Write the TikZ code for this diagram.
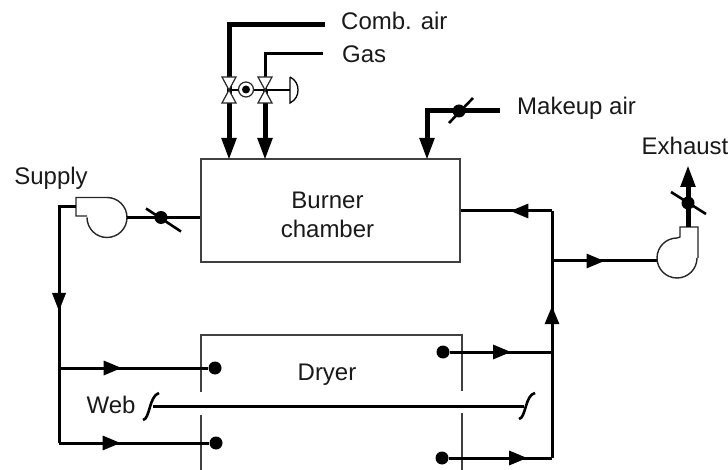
\documentclass[tikz,border=0pt]{standalone}
\usepackage{fontspec}
\setmainfont{Liberation Sans}
\usetikzlibrary{arrows.meta, decorations.markings, positioning}
\tikzstyle{vessel} = [rectangle, draw=black!75, line width=1.2pt, inner sep=0pt]
\tikzstyle{wall} = [draw=black!75, line width=1.4pt]
\tikzstyle{label} = [inner sep=0pt, text=black!90, align=center, font=\fontsize{24}{29}\selectfont]
\tikzstyle{pipe} = [line width=3pt]
\tikzstyle{heavy} = [line width=5pt]
\tikzstyle{link} = [line width=1.3pt]
\tikzstyle{tip} = [-{Triangle[length=22pt,width=14pt]}]
\tikzstyle{dot} = [circle, fill=black, inner sep=0pt, minimum size=13pt]
\tikzstyle{stick} = [line width=2.6pt]
\tikzstyle{fan} = [circle, inner sep=0pt, minimum size=40pt]
\tikzstyle{fanbody} = [draw=black!85, line width=1.4pt, fill=white]
\tikzstyle{valve} = [draw=black!85, line width=1.2pt, fill=white]
\tikzstyle{curl} = [line width=2.6pt]
\tikzset{flow/.style={postaction={decorate}, decoration={markings, mark=at position #1 with {\arrow{Triangle[length=18pt,width=14pt]}}}}}

\begin{document}
\begin{tikzpicture}[x=1pt, y=-1pt]
\useasboundingbox (0,0) rectangle (728,470);

\node (chamber) [vessel, minimum width=259pt, minimum height=103pt] at (330.5,210.5) {};
\node (chambertext) [label] at (327.5,215) {Burner\\chamber};

% dryer
\coordinate (dryernw) at (201,335);
\coordinate (dryerne) at (462,335);
\coordinate (dryerw) at (201,392);
\coordinate (dryere) at (462,391);
\draw [wall] (dryerw) -- (dryernw) -- (dryerne) -- (dryere);
\coordinate (dryerlw) at (201,415);
\coordinate (dryerle) at (462,413);
\draw [wall] (dryerlw) -- (201,470);
\draw [wall] (dryerle) -- (462,470);
\node (dryertext) [label] at (327,375) {Dryer};

% fuel train
\node (combtext) [label, anchor=west] at (341,21) {Comb. air};
\node (gastext) [label, anchor=west] at (342,54) {Gas};
\coordinate (combin) at (325,25);
\coordinate (gasin) at (323,54);
\coordinate (airvalve) at (229,90);
\coordinate (gasvalve) at (265,90);
\coordinate (airin) at (229,160);
\coordinate (fuelin) at (265,160);
\draw [heavy] (combin) -| (airvalve);
\draw [pipe] (gasin) -| (gasvalve);
\draw [heavy, tip] (airvalve) -- (airin);
\draw [heavy, tip] (gasvalve) -- (fuelin);
\coordinate (diaphragm) at (290,90);
\draw [link] (airvalve) -- (diaphragm);
\draw [valve] (airvalve) ++(-7,-13) -- ++(14,0) -- ++(-14,26) -- ++(14,0) -- cycle;
\draw [valve] (gasvalve) ++(-7,-13) -- ++(14,0) -- ++(-14,26) -- ++(14,0) -- cycle;
\node (motor) [circle, valve, inner sep=0pt, minimum size=15pt] at (246,89.5) {};
\node (motordot) [dot, minimum size=8pt] at (motor) {};
\draw [link] (290,77) -- (290,103) .. controls (296,100) and (298,95) .. (298,90) .. controls (298,85) and (296,80) .. (290,77);

% makeup air
\node (makeuptext) [label, anchor=west] at (517,108) {Makeup air};
\coordinate (makeupin) at (500,111);
\coordinate (makeupend) at (427,160);
\draw [heavy, tip] (makeupin) -| (makeupend);
\node (makeupdamper) [dot] at (459,111) {};
\draw [stick] (makeupdamper) ++(-10,12) -- ++(24,-25);

% supply side
\node (supplytext) [label] at (51,178) {Supply};
\node (supplyfan) [fan] at (107,217.5) {};
\draw [fanbody] (87,216) -- (76,216) -- (76,197.5) -- (107,197.5) arc[start angle=90, end angle=-180, radius=20pt];
\coordinate (supplyout) at (76,207);
\coordinate (mainw) at (59,443);
\coordinate (branchw) at (59,368);
\draw [pipe] (supplyout) -| (mainw);
\path [flow=0.44] (59,207) -- (59,443);
\draw [pipe] (supplyfan.east) -- (chamber.west |- supplyfan.east);
\node (supplydamper) [dot] at (161,217.5) {};
\draw [stick] (supplydamper) ++(-15,-9) -- ++(35,23);
\node (nozzlea) [dot] at (215,368) {};
\node (nozzleb) [dot] at (216,443) {};
\draw [pipe, flow=0.42] (branchw) -- (nozzlea);
\draw [pipe, flow=0.41] (mainw) -- (nozzleb);

% web
\node (webtext) [label] at (111,405) {Web};
\coordinate (webw) at (153,406);
\coordinate (webe) at (524,406);
\draw [pipe] (webw) -- (webe);
\draw [curl] (143,420) .. controls (150,419) and (149,396) .. (159,393);
\draw [curl] (519,419) .. controls (526,418) and (525,395) .. (535,393);

% return side
\node (nozzlec) [dot] at (443,352) {};
\node (nozzled) [dot] at (442,458) {};
\coordinate (returna) at (552,352);
\coordinate (returnb) at (552,458);
\coordinate (returntop) at (552,211);
\coordinate (returnmid) at (552,261);
\draw [pipe, flow=0.6] (nozzlec) -- (returna);
\draw [pipe, flow=0.76] (nozzled) -- (returnb);
\draw [pipe, flow=0.615] (returnb) -- (returntop);
\draw [pipe, flow=0.456] (returntop) -- (chamber.east |- returntop);
\draw [pipe, flow=0.5] (returnmid) -- (657,261);

% exhaust
\node (exhausttext) [label] at (685,146) {Exhaust};
\node (exhaustfan) [fan] at (677,258) {};
\draw [fanbody] (698,258) -- (698,227) -- (680,227) -- (680,237) -- (677,238) arc[start angle=90, end angle=360, radius=20pt];
\coordinate (stackin) at (688,227);
\coordinate (stackout) at (688,165);
\draw [heavy, tip] (stackin) -- (stackout);
\node (stackdamper) [dot] at (688,203) {};
\draw [stick] (stackdamper) ++(-17,-11) -- ++(35,22);
\end{tikzpicture}
\end{document}
